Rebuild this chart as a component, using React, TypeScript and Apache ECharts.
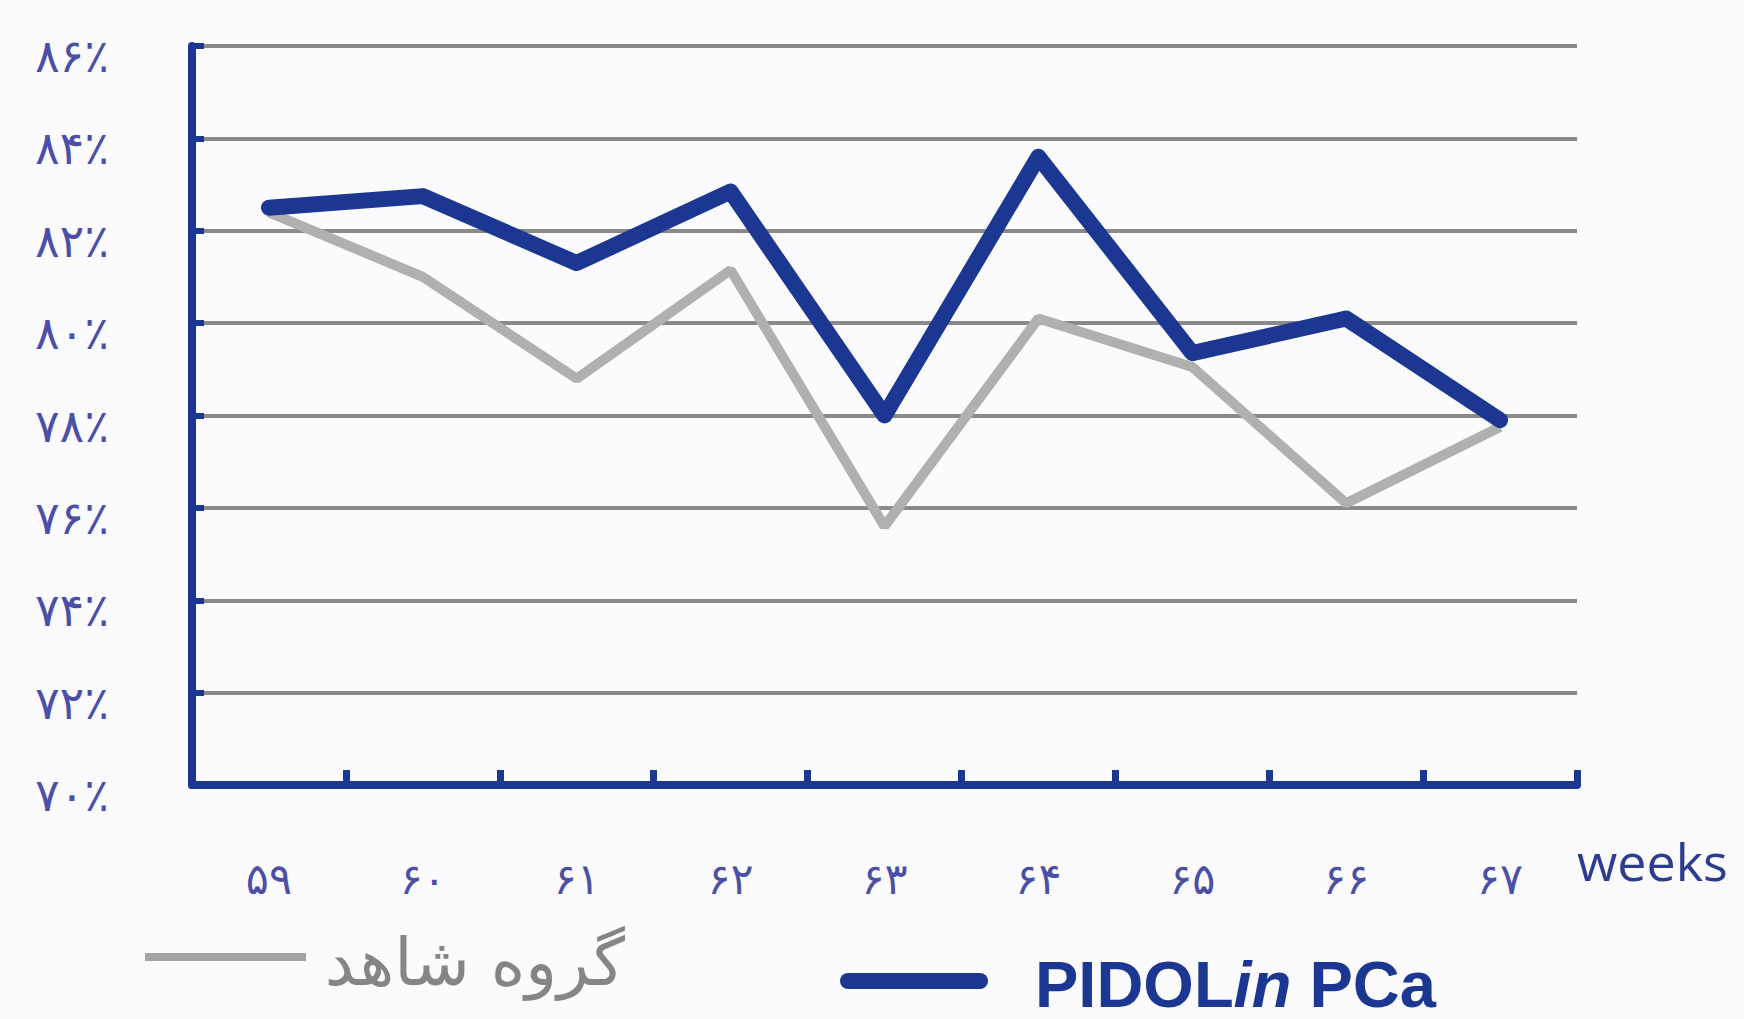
import React, { useEffect, useRef } from "react";
import * as echarts from "echarts";

// ---- data ----
const weekLabels = ["۵۹", "۶۰", "۶۱", "۶۲", "۶۳", "۶۴", "۶۵", "۶۶", "۶۷"];
const pidolValues = [82.5, 82.75, 81.3, 82.85, 78.0, 83.6, 79.35, 80.1, 77.9];
const controlValues = [82.4, 81.0, 78.8, 81.15, 75.6, 80.1, 79.05, 76.1, 77.75];
const yMin = 70;
const yMax = 86;
const yStep = 2;
const pidolName = "PIDOLin PCa";
const controlName = "گروه شاهد";
const xAxisTitle = "weeks";

const persianDigits = "۰۱۲۳۴۵۶۷۸۹";
const toPersian = (n: number) =>
  String(n).replace(/[0-9]/g, (d) => persianDigits[Number(d)]);

const BLUE = "#1b3791";
const GRID_GRAY = "#8a8a8a";
const LINE_GRAY = "#b0b0b0";
const LABEL_BLUE = "#4b4fa6";

export default function App() {
  const ref = useRef<HTMLDivElement>(null);

  useEffect(() => {
    if (!ref.current) return;
    const chart = echarts.init(ref.current, undefined, { renderer: "svg" });
    chart.setOption({
      animation: false,
      backgroundColor: "#fbfbfd",
      grid: { left: 192, right: 167, top: 46, bottom: 234, containLabel: false },
      xAxis: {
        type: "category",
        data: weekLabels,
        boundaryGap: true,
        axisLine: { show: true, lineStyle: { color: BLUE, width: 8 } },
        axisTick: {
          show: true,
          inside: true,
          length: 15,
          lineStyle: { color: BLUE, width: 7 },
        },
        axisLabel: {
          margin: 72,
          color: LABEL_BLUE,
          fontSize: 43,
          fontFamily: "DejaVu Sans",
        },
        splitLine: { show: false },
      },
      yAxis: {
        type: "value",
        min: yMin,
        max: yMax,
        interval: yStep,
        axisLine: { show: true, lineStyle: { color: BLUE, width: 8 } },
        axisTick: {
          show: true,
          inside: true,
          length: 12,
          lineStyle: { color: BLUE, width: 6 },
        },
        axisLabel: {
          margin: 83,
          color: LABEL_BLUE,
          fontSize: 46,
          fontFamily: "DejaVu Sans",
          verticalAlign: "top",
          lineHeight: 20,
          formatter: (v: number) => toPersian(v) + "٪",
        },
        splitLine: { show: true, lineStyle: { color: GRID_GRAY, width: 4 } },
      },
      series: [
        {
          name: controlName,
          type: "line",
          data: controlValues,
          symbol: "none",
          lineStyle: { color: LINE_GRAY, width: 10 },
          z: 3,
        },
        {
          name: pidolName,
          type: "line",
          data: pidolValues,
          symbol: "none",
          lineStyle: { color: BLUE, width: 16, cap: "round", join: "round" },
          z: 4,
        },
      ],
      graphic: [
        {
          type: "text",
          x: 1577,
          y: 860,
          style: {
            text: xAxisTitle,
            fill: "#2c3d8f",
            font: "52px 'Open Sans'",
            verticalAlign: "middle",
          },
        },
        {
          type: "line",
          shape: { x1: 145, y1: 957, x2: 306, y2: 957 },
          style: { stroke: "#a5a5a5", lineWidth: 8 },
        },
        {
          type: "text",
          x: 625,
          y: 962,
          style: {
            text: controlName,
            fill: "#858585",
            font: "66px 'DejaVu Sans'",
            align: "right",
            verticalAlign: "middle",
          },
        },
        {
          type: "line",
          shape: { x1: 848, y1: 981, x2: 980, y2: 981 },
          style: { stroke: BLUE, lineWidth: 16, lineCap: "round" },
        },
        {
          type: "text",
          x: 1035,
          y: 984,
          style: {
            text: "{a|PIDOL}{b|in}{a| PCa}",
            verticalAlign: "middle",
            rich: {
              a: {
                fill: BLUE,
                fontSize: 65,
                fontWeight: "bold",
                fontFamily: "Liberation Sans",
              },
              b: {
                fill: BLUE,
                fontSize: 65,
                fontWeight: "bold",
                fontStyle: "italic",
                fontFamily: "Liberation Sans",
              },
            },
          },
        },
      ],
    });
    return () => chart.dispose();
  }, []);

  return (
    <div
      ref={ref}
      style={{ width: 1744, height: 1019, position: "absolute", left: 0, top: 0 }}
    />
  );
}
